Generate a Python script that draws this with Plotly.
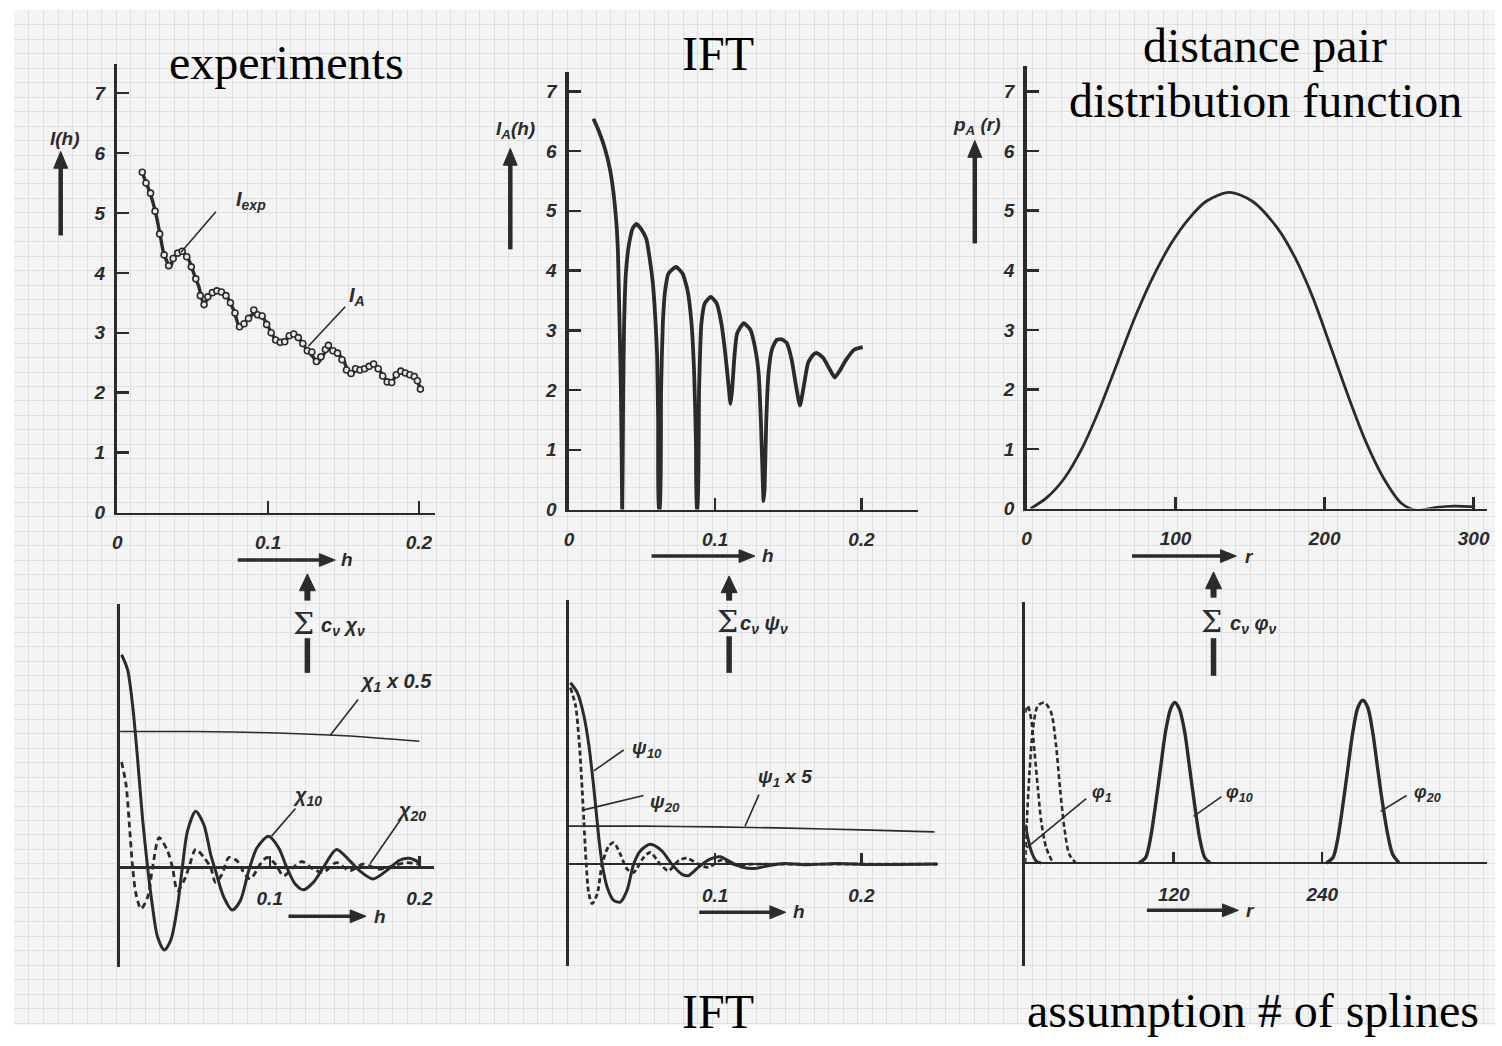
import plotly.graph_objects as go

W, H = 1502, 1046
INK = "#2b2b2b"

# ---------------- data ----------------
# Panel 1: experiment (open circles) and fitted intensity I_A
H_EXP = [0.0165, 0.019, 0.022, 0.025, 0.028, 0.031, 0.034, 0.037, 0.040, 0.043, 0.046, 0.049,
         0.052, 0.055, 0.0575, 0.060, 0.063, 0.066, 0.069, 0.072, 0.075, 0.078, 0.081, 0.084,
         0.087, 0.0905, 0.093, 0.096, 0.099, 0.102, 0.105, 0.108, 0.111, 0.114, 0.117, 0.120,
         0.123, 0.126, 0.129, 0.132, 0.135, 0.138, 0.140, 0.143, 0.146, 0.149, 0.152, 0.155,
         0.158, 0.161, 0.164, 0.167, 0.170, 0.173, 0.176, 0.179, 0.182, 0.185, 0.188, 0.191,
         0.194, 0.197, 0.199, 0.201]
I_EXP = [5.68, 5.50, 5.33, 5.03, 4.65, 4.30, 4.12, 4.24, 4.33, 4.36, 4.27, 4.10,
         3.90, 3.62, 3.47, 3.60, 3.67, 3.70, 3.68, 3.62, 3.50, 3.33, 3.10, 3.15,
         3.24, 3.38, 3.30, 3.28, 3.14, 3.00, 2.88, 2.84, 2.85, 2.95, 2.98, 2.92,
         2.82, 2.70, 2.68, 2.52, 2.60, 2.72, 2.79, 2.70, 2.66, 2.55, 2.38, 2.32,
         2.40, 2.38, 2.40, 2.44, 2.48, 2.40, 2.28, 2.18, 2.17, 2.30, 2.36, 2.33,
         2.30, 2.27, 2.20, 2.06]
H_FIT = [0.0165, 0.022, 0.0253, 0.0286, 0.0308, 0.0352, 0.0374, 0.0419, 0.0463, 0.0507, 0.054,
         0.0573, 0.0617, 0.0672, 0.0727, 0.0771, 0.0815, 0.0859, 0.0914, 0.0958, 0.099, 0.1035,
         0.109, 0.1156, 0.121, 0.1256, 0.130, 0.133, 0.140, 0.145, 0.1498, 0.154, 0.1597, 0.165,
         0.1696, 0.174, 0.1806, 0.187, 0.1938, 0.198, 0.2011]
I_FIT = [5.67, 5.31, 5.01, 4.60, 4.32, 4.10, 4.26, 4.35, 4.27, 3.99, 3.77,
         3.49, 3.63, 3.69, 3.60, 3.38, 3.08, 3.22, 3.33, 3.27, 3.16, 2.94,
         2.83, 2.97, 2.89, 2.72, 2.59, 2.50, 2.74, 2.67, 2.56, 2.31, 2.39, 2.42,
         2.48, 2.37, 2.15, 2.34, 2.31, 2.23, 2.06]

# Panel 2: IFT intensity
H_IFT = [0.0167, 0.0205, 0.0246, 0.0280, 0.0303, 0.0325, 0.0335, 0.0341, 0.0348, 0.0355, 0.0360, 0.0364,
         0.0368, 0.0371, 0.0377, 0.0389, 0.0411, 0.0438, 0.0461, 0.0495, 0.0529, 0.0551, 0.0574, 0.0590,
         0.0603, 0.0610, 0.0615,
         0.0621, 0.0630, 0.0642, 0.0658, 0.0680, 0.0732, 0.0777, 0.0811, 0.0838, 0.0856, 0.0868, 0.0875,
         0.0879, 0.0890, 0.0906, 0.0929, 0.0970, 0.1010, 0.1042, 0.1071, 0.1094, 0.1105, 0.1116, 0.1132,
         0.1150, 0.1195, 0.1241, 0.1275, 0.1297, 0.1313, 0.1327, 0.1331, 0.1338, 0.1349, 0.1365, 0.1388,
         0.1421, 0.1455, 0.1489, 0.1523, 0.1553, 0.1580, 0.1602, 0.1636, 0.1670, 0.1697, 0.1738, 0.1783,
         0.1817, 0.1851, 0.1896, 0.1953, 0.2009]
I_IFT = [6.54, 6.33, 6.04, 5.70, 5.33, 4.77, 4.30, 3.67, 2.90, 2.01, 1.00, 0.00,
         1.00, 2.00, 3.10, 3.95, 4.45, 4.72, 4.78, 4.69, 4.53, 4.22, 3.78, 3.23,
         2.57, 1.46, 0.00,
         0.00, 2.01, 3.12, 3.67, 3.95, 4.06, 3.95, 3.67, 3.12, 2.29, 1.19, 0.00,
         0.00, 2.01, 3.12, 3.45, 3.56, 3.45, 3.12, 2.57, 2.01, 1.77, 2.01, 2.57,
         2.95, 3.12, 3.01, 2.68, 2.29, 1.46, 0.36, 0.14, 0.36, 1.46, 2.29, 2.68,
         2.84, 2.85, 2.79, 2.51, 2.07, 1.74, 2.01, 2.46, 2.59, 2.62, 2.54, 2.35,
         2.21, 2.32, 2.51, 2.68, 2.72]

# Panel 3: distance distribution function
R_P = [2.7, 13.4, 25.4, 37.2, 49.1, 61.0, 72.9, 84.9, 96.8, 108.7, 120.6, 136.0, 151.5, 168.0,
       180.0, 192.0, 204.0, 215.8, 227.7, 239.6, 251.5, 262.0, 275.0, 287.0, 301.0]
P_R = [0.00, 0.18, 0.51, 1.01, 1.68, 2.45, 3.22, 3.89, 4.44, 4.86, 5.16, 5.31, 5.16, 4.72,
       4.22, 3.55, 2.72, 1.89, 1.12, 0.51, 0.09, -0.03, 0.02, 0.04, 0.03]

# Panel 4: chi basis functions (arbitrary units)
H_CHI1 = [0.0, 0.05, 0.10, 0.15, 0.20]
CHI1 = [0.639, 0.639, 0.633, 0.619, 0.593]
H_CHI10 = [0.001, 0.005, 0.0084, 0.0117, 0.015, 0.0184, 0.0217, 0.025, 0.0295, 0.0339, 0.0383, 0.0416,
           0.045, 0.0505, 0.056, 0.0605, 0.0638, 0.0693, 0.0749, 0.0804, 0.0859, 0.0915, 0.0992, 0.1059,
           0.1114, 0.117, 0.1225, 0.1291, 0.1358, 0.1446, 0.1535, 0.1601, 0.169, 0.1779, 0.1867, 0.1934, 0.2]
CHI10 = [1.0, 0.93, 0.76, 0.51, 0.23, 0.0, -0.186, -0.326, -0.388, -0.341, -0.186, 0.0,
         0.17, 0.264, 0.2, 0.062, -0.016, -0.14, -0.2, -0.155, -0.016, 0.093, 0.147, 0.093,
         0.0, -0.078, -0.105, -0.07, 0.0, 0.085, 0.031, -0.016, -0.054, -0.016, 0.034, 0.043, 0.023]
H_CHI20 = [0.001, 0.004, 0.0062, 0.0084, 0.0106, 0.014, 0.0184, 0.0217, 0.0261, 0.0317, 0.035, 0.0383,
           0.0427, 0.046, 0.0505, 0.056, 0.0605, 0.0638, 0.0682, 0.0726, 0.0782, 0.0826, 0.087, 0.0937,
           0.0981, 0.1037, 0.1092, 0.1158, 0.1214, 0.1291, 0.1358, 0.1446, 0.1535, 0.1623, 0.1734,
           0.1823, 0.1911, 0.2]
CHI20 = [0.496, 0.388, 0.2, 0.0, -0.124, -0.194, -0.14, 0.0, 0.14, 0.078, 0.0, -0.109,
         -0.062, 0.0, 0.085, 0.047, 0.0, -0.07, -0.031, 0.047, 0.031, -0.023, -0.054, 0.016,
         0.047, 0.016, -0.039, 0.0, 0.028, -0.008, -0.023, 0.023, -0.016, 0.016, -0.008,
         0.008, 0.023, 0.016]

# Panel 5: psi basis functions (arbitrary units)
H_PSI1 = [0.0, 0.05, 0.10, 0.15, 0.20, 0.25]
PSI1 = [0.209, 0.209, 0.205, 0.198, 0.189, 0.178]
H_PSI10 = [0.001, 0.0057, 0.0102, 0.0136, 0.017, 0.0204, 0.0227, 0.0261, 0.0306, 0.0351, 0.0397, 0.0442,
           0.0488, 0.0556, 0.0635, 0.0703, 0.0771, 0.0816, 0.0884, 0.0964, 0.1032, 0.1111, 0.119,
           0.127, 0.136, 0.1474, 0.161, 0.1837, 0.2063, 0.2517]
PSI10 = [1.0, 0.945, 0.818, 0.655, 0.418, 0.145, 0.0, -0.127, -0.2, -0.209, -0.145, 0.0,
         0.073, 0.109, 0.073, 0.0, -0.055, -0.064, -0.018, 0.027, 0.04, 0.009, -0.018,
         -0.024, -0.009, 0.004, -0.004, 0.004, -0.002, 0.0]
H_PSI20 = [0.001, 0.0045, 0.0068, 0.0086, 0.0102, 0.0118, 0.0136, 0.0159, 0.0193, 0.0227, 0.0272, 0.0306,
           0.0351, 0.0397, 0.0442, 0.051, 0.0556, 0.0624, 0.068, 0.0748, 0.0805, 0.0884, 0.0952, 0.1043,
           0.1134, 0.1247, 0.1383, 0.2517]
PSI20 = [0.973, 0.873, 0.691, 0.473, 0.236, 0.0, -0.164, -0.218, -0.164, 0.0, 0.1, 0.118,
         0.055, -0.027, -0.045, 0.036, 0.064, 0.0, -0.036, 0.018, 0.033, 0.0, -0.018, 0.022,
         -0.004, 0.0, 0.0, 0.0]

# Panel 6: phi spline functions (arbitrary units)
R_PHI1 = [0.0, 2.1, 4.8, 8.8, 12.9]
PHI1 = [0.24, 0.158, 0.076, 0.014, 0.0]
R_PHI2 = [0.0, 2.1, 4.8, 7.5, 10.2, 12.9, 16.9, 22.2]
PHI2 = [0.938, 0.98, 0.897, 0.692, 0.466, 0.261, 0.097, 0.004]
R_PHI3 = [0.0, 1.3, 3.5, 6.2, 10.2, 15.5, 20.9, 24.9, 28.1, 31.6, 35.6, 41.0]
PHI3 = [0.0, 0.261, 0.569, 0.836, 0.98, 1.0, 0.938, 0.733, 0.466, 0.22, 0.055, 0.0]
R_PHI10 = [91.9, 97.3, 101.3, 105.3, 109.3, 113.3, 117.4, 120.8, 124.6, 128.9, 132.9, 136.9, 140.9, 145.0, 149.5]
PHI10 = [0.0, 0.035, 0.158, 0.363, 0.589, 0.815, 0.959, 1.0, 0.959, 0.815, 0.589, 0.363, 0.158, 0.035, 0.0]
R_PHI20 = [243.3, 248.7, 252.7, 256.7, 260.7, 264.7, 268.8, 272.8, 276.8, 280.8, 284.8, 288.9, 292.9, 296.9, 302.2]
PHI20 = [0.0, 0.035, 0.158, 0.363, 0.589, 0.815, 0.969, 1.014, 0.969, 0.815, 0.589, 0.363, 0.179, 0.055, 0.0]

# tick values / labels
TICK_H = [0, 0.1, 0.2]
TICK_H_TXT = ["0", "0.1", "0.2"]
TICK_Y = [0, 1, 2, 3, 4, 5, 6, 7]
TICK_R = [0, 100, 200, 300]
TICK_H_BOT = [0.1, 0.2]
TICK_R_BOT = [120, 240]

# ---------------- helpers ----------------
def X(px):
    return px / W


def Y(py):
    return 1 - py / H


HAND = dict(family="Liberation Sans", size=19, color=INK, style="italic", weight="bold")
SERIF = dict(family="Liberation Serif", size=48, color="#000000")

fig = go.Figure()

# background grid subplot (x / y)
GX0, GX1, GY0, GY1 = 9, 1498, 10, 1036
fig.add_trace(go.Scatter(x=[None], y=[None], xaxis="x", yaxis="y", showlegend=False, hoverinfo="skip"))
grid_ax = dict(showgrid=True, gridcolor="#e0e0e0", gridwidth=1, dtick=14.62, zeroline=False,
               showticklabels=False, ticks="", showline=False, fixedrange=True)
layout = dict(
    xaxis=dict(domain=[X(GX0), X(GX1)], range=[GX0, GX1], tick0=9.5, anchor="y", **grid_ax),
    yaxis=dict(domain=[Y(GY1), Y(GY0)], range=[GY1, GY0], tick0=10.5, anchor="x", **grid_ax),
)

# panel geometry in pixels
TOP = {
    2: dict(x0=113, x1=432, xr=[0, 0.2105], yb=518, yt=65, yr=[0, 7.48], xt=TICK_H, xtt=TICK_H_TXT),
    3: dict(x0=567, x1=918, xr=[0, 0.2388], yb=515, yt=73, yr=[0, 7.32], xt=TICK_H, xtt=TICK_H_TXT),
    4: dict(x0=1027, x1=1490, xr=[0, 309], yb=514, yt=67, yr=[0, 7.425], xt=TICK_R,
            xtt=[str(v) for v in TICK_R]),
}
BOT = {
    5: dict(x0=115.7, x1=431.7, xr=[0, 0.21], yb=977, yt=610, y0=876.7, sc=215.0,
            xt=TICK_H_BOT, xtt=["0.1", "0.2"]),
    6: dict(x0=567, x1=938.3, xr=[0, 0.2526], yb=976.7, yt=606.7, y0=873.3, sc=183.3,
            xt=TICK_H_BOT, xtt=["0.1", "0.2"]),
    7: dict(x0=1025.7, x1=1490, xr=[0, 373.2], yb=976.7, yt=608, y0=872.3, sc=162.3,
            xt=TICK_R_BOT, xtt=["120", "240"]),
}

for k, g in TOP.items():
    layout[f"xaxis{k}"] = dict(domain=[X(g["x0"]), X(g["x1"])], range=g["xr"], anchor=f"y{k}",
                               showline=True, linewidth=2.5, linecolor=INK, ticks="inside",
                               ticklen=12, tickwidth=2.5, tickcolor=INK, tickvals=g["xt"],
                               ticktext=g["xtt"], tickfont=HAND, showgrid=False, zeroline=False,
                               ticklabelstandoff=11, fixedrange=True)
    layout[f"yaxis{k}"] = dict(domain=[Y(g["yb"]), Y(g["yt"])], range=g["yr"], anchor=f"x{k}",
                               showline=True, linewidth=3.5, linecolor=INK, ticks="inside",
                               ticklen=12, tickwidth=2.5, tickcolor=INK, tickvals=TICK_Y,
                               tickfont=HAND, showgrid=False, zeroline=False,
                               ticklabelstandoff=5, fixedrange=True)

for k, g in BOT.items():
    yr = [(g["y0"] - g["yb"]) / g["sc"], (g["y0"] - g["yt"]) / g["sc"]]
    layout[f"xaxis{k}"] = dict(domain=[X(g["x0"]), X(g["x1"])], range=g["xr"], anchor="free",
                               position=Y(g["y0"]), showline=True, linewidth=2.2, linecolor=INK,
                               ticks="inside", ticklen=10, tickwidth=2.5, tickcolor=INK,
                               tickvals=g["xt"], ticktext=g["xtt"], tickfont=HAND, showgrid=False,
                               zeroline=False, ticklabelstandoff=14, fixedrange=True)
    layout[f"yaxis{k}"] = dict(domain=[Y(g["yb"]), Y(g["yt"])], range=yr, anchor=f"x{k}",
                               showline=True, linewidth=3, linecolor=INK, ticks="",
                               showticklabels=False, showgrid=False, zeroline=False, fixedrange=True)


def line(x, y, k, width=2.5, dash="solid", shape="spline", smoothing=0.8):
    fig.add_trace(go.Scatter(x=x, y=y, xaxis=f"x{k}", yaxis=f"y{k}", mode="lines",
                             line=dict(color=INK, width=width, dash=dash, shape=shape, smoothing=smoothing),
                             showlegend=False, hoverinfo="skip"))


# panel 1
line(H_FIT, I_FIT, 2, width=3.4)
fig.add_trace(go.Scatter(x=H_EXP, y=I_EXP, xaxis="x2", yaxis="y2", mode="markers",
                         marker=dict(symbol="circle", size=6, color="#e9e9e9",
                                     line=dict(color=INK, width=1.6)),
                         showlegend=False, hoverinfo="skip"))
# panel 2
line(H_IFT, I_IFT, 3, width=3.8, smoothing=0.5)
# panel 3
line(R_P, P_R, 4, width=2.8)
# panel 4
line(H_CHI1, CHI1, 5, width=1.6)
line(H_CHI10, CHI10, 5, width=3.0)
line(H_CHI20, CHI20, 5, width=2.8, dash="6px,4px")
# panel 5
line(H_PSI1, PSI1, 6, width=1.7)
line(H_PSI10, PSI10, 6, width=3.0)
line(H_PSI20, PSI20, 6, width=2.8, dash="5px,3px")
# panel 6
line(R_PHI1, PHI1, 7, width=3.0)
line(R_PHI2, PHI2, 7, width=2.6, dash="5px,3px")
line(R_PHI3, PHI3, 7, width=2.6, dash="5px,3px")
line(R_PHI10, PHI10, 7, width=3.4)
line(R_PHI20, PHI20, 7, width=3.4)

# ---------------- annotations & shapes ----------------
ann = []
shapes = [dict(type="rect", xref="paper", yref="paper", x0=X(GX0), x1=X(GX1), y0=Y(GY1), y1=Y(GY0),
               fillcolor="#f4f4f4", line=dict(width=0), layer="below")]


def text(x, y, s, font=None, xanchor="center"):
    ann.append(dict(x=X(x), y=Y(y), xref="paper", yref="paper", text=s, showarrow=False,
                    font=font or HAND, xanchor=xanchor, yanchor="middle"))


def seg(x0, y0, x1, y1, width=1.6):
    shapes.append(dict(type="line", xref="paper", yref="paper", x0=X(x0), y0=Y(y0), x1=X(x1), y1=Y(y1),
                       line=dict(color=INK, width=width)))


def arrow(xt, yt, xs, ys, shaft=4.5, hw=14, hl=17):
    """Arrow drawn as shaft line + filled triangular head (tip at xt, yt)."""
    dx, dy = xt - xs, yt - ys
    n = (dx * dx + dy * dy) ** 0.5
    ux, uy = dx / n, dy / n
    bx, by = xt - ux * hl, yt - uy * hl
    px_, py_ = -uy * hw / 2, ux * hw / 2
    seg(xs, ys, bx + ux * 2, by + uy * 2, width=shaft)
    path = (f"M {X(xt)},{Y(yt)} L {X(bx + px_)},{Y(by + py_)} "
            f"L {X(bx - px_)},{Y(by - py_)} Z")
    shapes.append(dict(type="path", xref="paper", yref="paper", path=path,
                       fillcolor=INK, line=dict(color=INK, width=1)))


# titles
text(283, 63, "experiments", SERIF)
text(717, 54, "IFT", SERIF)
text(1267, 46, "distance pair", SERIF)
text(1267, 102, "distribution function", SERIF)
text(717, 1022, "IFT", SERIF)
text(1255, 1021, "assumption # of splines", SERIF)

# axis direction arrows and labels (top)
arrow(56, 153, 56, 238)
text(60, 140, "I(h)")
arrow(508, 150, 508, 252)
text(513, 131, "I<sub>A</sub>(h)")
arrow(975, 142, 975, 246)
text(977, 127, "p<sub>A</sub> (r)")
arrow(332, 566, 234, 566, shaft=3.5, hw=13, hl=16)
text(344, 565, "h")
arrow(754, 562, 650, 562, shaft=3.5, hw=13, hl=16)
text(767, 561, "h")
arrow(1238, 562, 1133, 562, shaft=3.5, hw=13, hl=16)
text(1251, 562, "r")

# sum arrows between rows
SIGMA = dict(family="DejaVu Serif", size=30, color=INK)
arrow(304, 580, 304, 607, shaft=6, hw=16, hl=17)
text(300, 630, "Σ", SIGMA)
text(316, 633, "c<sub>ν</sub> χ<sub>ν</sub>", dict(HAND, size=20), xanchor="left")
arrow(728, 582, 728, 607, shaft=6, hw=16, hl=17)
text(726, 628, "Σ", SIGMA)
text(737, 631, "c<sub>ν</sub> ψ<sub>ν</sub>", dict(HAND, size=20), xanchor="left")
arrow(1215, 578, 1215, 604, shaft=6, hw=16, hl=17)
text(1213, 628, "Σ", SIGMA)
text(1230, 631, "c<sub>ν</sub> φ<sub>ν</sub>", dict(HAND, size=20), xanchor="left")
seg(304, 645, 304, 680, width=5.5)
seg(728, 643, 728, 680, width=5.5)
seg(1215, 645, 1215, 683, width=5.5)

# bottom axis arrows
arrow(363, 926, 285, 926, shaft=3.5, hw=13, hl=16)
text(377, 926, "h")
arrow(785, 922, 698, 922, shaft=3.5, hw=13, hl=16)
text(798, 921, "h")
arrow(1240, 920, 1148, 920, shaft=3.5, hw=13, hl=16)
text(1252, 920, "r")

# curve labels
text(230, 203, "I<sub>exp</sub>", dict(HAND, size=20), xanchor="left")
text(344, 300, "I<sub>A</sub>", dict(HAND, size=20), xanchor="left")
text(355, 690, "χ<sub>1</sub> x 0.5", dict(HAND, size=20), xanchor="left")
text(288, 805, "χ<sub>10</sub>", dict(HAND, size=20), xanchor="left")
text(392, 820, "χ<sub>20</sub>", dict(HAND, size=20), xanchor="left")
text(628, 757, "ψ<sub>10</sub>", dict(HAND, size=19), xanchor="left")
text(646, 812, "ψ<sub>20</sub>", dict(HAND, size=19), xanchor="left")
text(755, 786, "ψ<sub>1</sub> x 5", dict(HAND, size=19), xanchor="left")
text(1091, 802, "φ<sub>1</sub>", dict(HAND, size=18), xanchor="left")
text(1226, 802, "φ<sub>10</sub>", dict(HAND, size=18), xanchor="left")
text(1415, 802, "φ<sub>20</sub>", dict(HAND, size=18), xanchor="left")

# leader lines
seg(212, 214, 177, 255)
seg(342, 310, 305, 350)
seg(355, 707, 327, 743)
seg(292, 817, 268, 845)
seg(398, 828, 367, 873)
seg(622, 758, 592, 779)
seg(642, 804, 580, 819)
seg(758, 803, 744, 835)
seg(1087, 807, 1027, 857)
seg(1223, 805, 1195, 825)
seg(1409, 804, 1383, 820)

fig.update_layout(width=W, height=H, margin=dict(l=0, r=0, t=0, b=0), paper_bgcolor="#ffffff",
                  plot_bgcolor="rgba(0,0,0,0)", showlegend=False, annotations=ann, shapes=shapes,
                  **layout)

fig.write_html("out.html", config={"displayModeBar": False, "staticPlot": True},
               post_script="document.body.style.margin='0px';document.body.style.overflow='hidden';")
